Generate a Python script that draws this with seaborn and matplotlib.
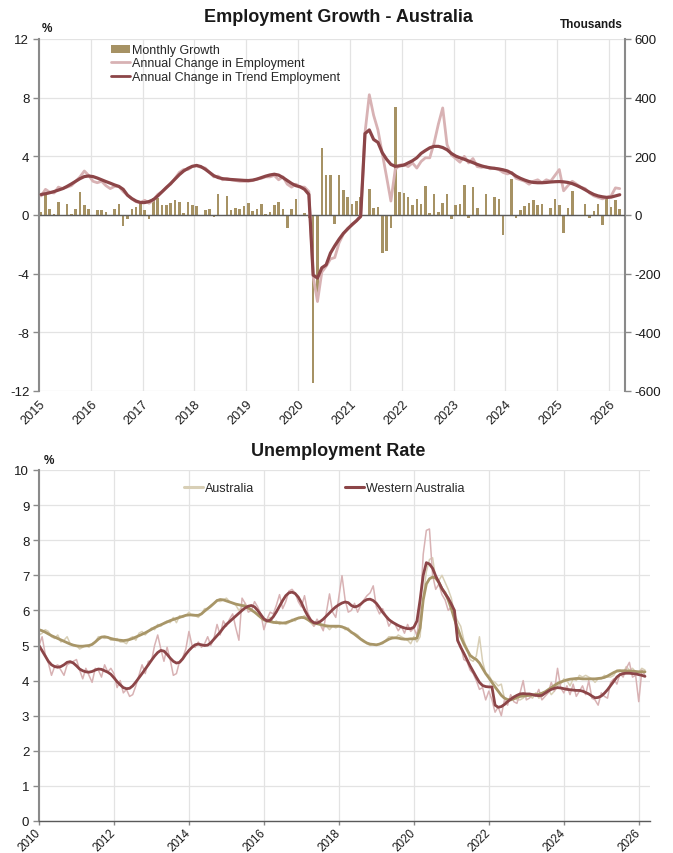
import numpy as np
import matplotlib
matplotlib.use("Agg")
import matplotlib.pyplot as plt
import seaborn as sns
from matplotlib.patches import Patch
from matplotlib.lines import Line2D

# ---------------- DATA ----------------
# Employment growth - Australia, monthly Jan 2015 .. Mar 2026
emp_start_year = 2015
monthly_growth_k = [
    11, 71, 20, 2, 44, -5, 36, 5, 19, 78, 35, 19,          # 2015
    0, 18, 17, 9, -5, 20, 36, -38, -15, 20, 27, 36,         # 2016
    17, -14, 58, 58, 33, 33, 40, 50, 43, 7, 46, 35,         # 2017
    29, -1, 18, 19, -8, 70, 0, 66, 17, 23, 21, 30,          # 2018
    41, 15, 19, 36, 5, 11, 34, 45, 19, -46, 21, 55,         # 2019
    1, 8, -9, -574, -294, 228, 138, 136, -31, 138, 85, 62,  # 2020
    39, 47, 62, -3, 88, 25, 26, -128, -122, -46, 367, 80,   # 2021
    75, 60, 33, 55, 36, 100, 8, 73, 9, 41, 73, -12,         # 2022
    33, 38, 102, -9, 95, 24, 0, 72, -2, 60, 54, -68,        # 2023
    -3, 122, -9, 17, 30, 42, 52, 33, 38, 0, 25, 54,         # 2024
    33, -62, 25, 81, -2, -1, 36, -11, 14, 36, -33, 60,      # 2025
    26, 50, 20,                                             # 2026
]
annual_change_pct = [
    1.30, 1.75, 1.55, 1.50, 1.90, 1.80, 1.90, 2.00, 2.30, 2.60, 3.00, 2.70,
    2.30, 2.20, 2.30, 2.00, 1.80, 1.95, 1.95, 1.60, 1.35, 1.10, 0.90, 0.85,
    1.00, 0.80, 1.00, 1.40, 1.60, 1.90, 2.10, 2.50, 2.90, 3.10, 3.10, 3.30,
    3.35, 3.25, 3.20, 2.90, 2.60, 2.65, 2.40, 2.50, 2.40, 2.35, 2.30, 2.30,
    2.30, 2.35, 2.45, 2.50, 2.60, 2.60, 2.70, 2.40, 2.60, 2.10, 1.90, 2.10,
    1.90, 1.90, 1.60, -4.20, -5.90, -3.90, -3.50, -3.00, -2.90, -1.90, -1.30, -0.90,
    -0.70, -0.40, -0.05, 5.60, 8.20, 6.80, 5.80, 4.20, 2.60, 0.95, 3.10, 3.40,
    3.45, 3.30, 3.55, 3.20, 3.65, 3.90, 3.90, 4.90, 6.20, 7.30, 4.80, 4.10,
    3.85, 3.60, 4.00, 3.55, 3.85, 3.30, 3.25, 3.30, 3.15, 3.20, 3.10, 2.90,
    2.80, 2.90, 2.50, 2.40, 2.30, 2.10, 2.30, 2.40, 2.20, 2.40, 2.30, 2.70,
    3.10, 1.65, 2.00, 2.30, 2.10, 1.90, 1.80, 1.50, 1.30, 1.20, 1.10, 1.20,
    1.30, 1.85, 1.80,
]
annual_trend_pct = [
    1.40, 1.45, 1.52, 1.60, 1.70, 1.80, 1.95, 2.12, 2.30, 2.48, 2.62, 2.66,
    2.62, 2.52, 2.40, 2.28, 2.17, 2.05, 1.95, 1.75, 1.35, 1.12, 0.95, 0.85,
    0.85, 0.92, 1.05, 1.30, 1.58, 1.85, 2.15, 2.45, 2.75, 3.00, 3.18, 3.32,
    3.38, 3.30, 3.12, 2.90, 2.68, 2.55, 2.48, 2.44, 2.42, 2.40, 2.38, 2.36,
    2.35, 2.38, 2.45, 2.55, 2.65, 2.73, 2.78, 2.72, 2.55, 2.35, 2.15, 2.00,
    1.92, 1.75, 1.40, -4.10, -4.30, -3.60, -3.40, -2.60, -2.10, -1.65, -1.25, -0.95,
    -0.65, -0.40, -0.10, 5.55, 5.80, 5.15, 4.95, 4.25, 3.80, 3.45, 3.32, 3.35,
    3.40, 3.55, 3.70, 3.90, 4.20, 4.40, 4.58, 4.68, 4.68, 4.60, 4.45, 4.20,
    4.02, 3.90, 3.80, 3.68, 3.57, 3.45, 3.35, 3.27, 3.22, 3.18, 3.14, 3.08,
    3.00, 2.85, 2.65, 2.50, 2.38, 2.28, 2.22, 2.20, 2.20, 2.22, 2.25, 2.27,
    2.28, 2.26, 2.22, 2.14, 2.02, 1.88, 1.72, 1.55, 1.40, 1.30, 1.24, 1.20,
    1.22, 1.30, 1.38,
]
emp_years = list(range(2015, 2027))

# Unemployment rate, monthly Jan 2010 .. Mar 2026
ur_start_year = 2010
aus_raw = [
    5.30, 5.35, 5.45, 5.40, 5.25, 5.20, 5.30, 5.10, 5.15, 5.25, 5.05, 5.00,
    5.00, 4.90, 4.95, 5.00, 4.95, 5.05, 5.10, 5.25, 5.25, 5.20, 5.25, 5.15,
    5.15, 5.20, 5.10, 5.10, 5.05, 5.20, 5.25, 5.15, 5.35, 5.40, 5.30, 5.40,
    5.50, 5.45, 5.60, 5.55, 5.65, 5.70, 5.65, 5.80, 5.65, 5.85, 5.80, 5.85,
    5.95, 5.85, 5.85, 5.80, 5.90, 6.05, 6.05, 6.15, 6.20, 6.30, 6.25, 6.30,
    6.35, 6.25, 6.20, 6.15, 6.00, 6.10, 6.20, 6.05, 6.05, 5.95, 5.85, 5.80,
    5.75, 5.70, 5.80, 5.65, 5.70, 5.60, 5.65, 5.60, 5.65, 5.75, 5.70, 5.80,
    5.80, 5.85, 5.75, 5.65, 5.55, 5.65, 5.60, 5.50, 5.55, 5.45, 5.55, 5.50,
    5.55, 5.55, 5.45, 5.50, 5.35, 5.35, 5.30, 5.20, 5.15, 5.05, 5.00, 5.05,
    5.00, 5.05, 5.05, 5.15, 5.25, 5.25, 5.20, 5.30, 5.25, 5.20, 5.15, 5.05,
    5.25, 5.10, 5.25, 6.40, 7.10, 7.45, 7.50, 6.90, 6.85, 7.00, 6.80, 6.60,
    6.35, 5.90, 5.70, 5.55, 5.15, 4.90, 4.60, 4.55, 4.70, 5.25, 4.55, 4.20,
    4.15, 4.00, 3.95, 3.85, 3.90, 3.50, 3.45, 3.50, 3.55, 3.45, 3.45, 3.50,
    3.60, 3.55, 3.50, 3.65, 3.50, 3.55, 3.65, 3.75, 3.60, 3.70, 3.85, 3.90,
    4.05, 4.00, 3.85, 4.05, 4.00, 4.15, 4.10, 4.15, 4.10, 4.05, 3.95, 4.05,
    4.05, 4.15, 4.10, 4.10, 4.15, 4.30, 4.30, 4.20, 4.40, 4.30, 4.35, 4.25,
    4.25, 4.35, 4.30,
]
aus_trend = [
    5.45, 5.42, 5.38, 5.33, 5.28, 5.24, 5.20, 5.16, 5.12, 5.08, 5.04, 5.01,
    4.99, 4.98, 4.98, 4.99, 5.00, 5.03, 5.10, 5.18, 5.24, 5.25, 5.23, 5.20,
    5.18, 5.16, 5.15, 5.14, 5.15, 5.17, 5.20, 5.24, 5.28, 5.32, 5.36, 5.41,
    5.46, 5.51, 5.55, 5.59, 5.63, 5.67, 5.71, 5.74, 5.77, 5.80, 5.83, 5.86,
    5.87, 5.87, 5.86, 5.86, 5.90, 5.98, 6.05, 6.12, 6.20, 6.28, 6.31, 6.30,
    6.27, 6.24, 6.21, 6.18, 6.16, 6.14, 6.12, 6.07, 6.01, 5.95, 5.88, 5.80,
    5.73, 5.70, 5.68, 5.66, 5.65, 5.65, 5.64, 5.65, 5.68, 5.71, 5.75, 5.78,
    5.80, 5.79, 5.74, 5.68, 5.64, 5.62, 5.60, 5.58, 5.56, 5.55, 5.55, 5.55,
    5.55, 5.53, 5.50, 5.45, 5.38, 5.32, 5.25, 5.18, 5.12, 5.07, 5.04, 5.03,
    5.02, 5.04, 5.08, 5.13, 5.18, 5.21, 5.22, 5.21, 5.19, 5.18, 5.18, 5.19,
    5.19, 5.21, 5.50, 6.30, 6.75, 6.90, 6.95, 6.92, 6.80, 6.62, 6.50, 6.30,
    6.05, 5.75, 5.50, 5.25, 5.05, 4.88, 4.72, 4.65, 4.60, 4.50, 4.35, 4.20,
    4.08, 3.95, 3.82, 3.70, 3.58, 3.50, 3.46, 3.45, 3.48, 3.52, 3.55, 3.56,
    3.57, 3.58, 3.59, 3.60, 3.61, 3.64, 3.68, 3.74, 3.80, 3.86, 3.92, 3.96,
    3.99, 4.02, 4.04, 4.05, 4.06, 4.06, 4.05, 4.05, 4.05, 4.05, 4.05, 4.06,
    4.07, 4.09, 4.13, 4.18, 4.23, 4.27, 4.28, 4.28, 4.28, 4.27, 4.27, 4.26,
    4.25, 4.25, 4.25,
]
wa_raw = [
    5.00, 5.25, 4.75, 4.50, 4.15, 4.40, 4.45, 4.30, 4.15, 4.45, 4.50, 4.55,
    4.60, 4.30, 4.05, 4.35, 4.15, 3.95, 4.35, 4.30, 4.10, 4.45, 4.25, 4.35,
    4.20, 3.80, 4.00, 3.65, 3.75, 3.55, 3.60, 3.85, 4.15, 4.45, 4.20, 4.55,
    4.55, 5.00, 5.30, 4.90, 4.55, 4.95, 4.60, 4.15, 4.20, 4.55, 4.65, 4.90,
    5.40, 5.00, 4.95, 5.10, 4.95, 5.05, 5.25, 5.00, 5.20, 5.60, 5.30, 5.70,
    5.55, 5.75, 5.90, 5.50, 5.15, 6.35, 6.20, 5.95, 6.00, 6.25, 6.10, 5.90,
    5.45, 5.75, 5.95, 5.90, 6.15, 6.45, 6.05, 6.25, 6.55, 6.60, 6.50, 6.25,
    6.10, 6.42, 5.95, 5.75, 5.55, 5.75, 5.60, 5.42, 5.95, 6.47, 5.95, 5.80,
    6.40, 6.99, 6.30, 5.95, 6.00, 6.20, 5.95, 6.15, 6.30, 6.42, 6.50, 6.70,
    6.10, 5.90, 6.05, 5.85, 5.55, 5.70, 5.60, 5.42, 5.55, 5.35, 5.60, 5.40,
    5.50, 5.28, 6.00, 7.60, 8.28, 8.32, 7.00, 6.60, 6.75, 6.45, 6.30, 6.00,
    6.10, 5.90, 5.10, 5.00, 4.60, 4.55, 4.30, 4.20, 4.00, 3.75, 3.80, 3.45,
    3.70, 3.45, 3.10, 3.25, 3.00, 3.45, 3.30, 3.60, 3.40, 3.35, 3.65, 4.00,
    3.45, 3.50, 3.60, 3.55, 3.75, 3.45, 3.55, 3.65, 3.95, 3.70, 4.35, 3.80,
    3.65, 3.85, 3.60, 3.90, 3.55, 3.70, 3.85, 3.60, 4.00, 3.50, 3.45, 3.30,
    3.65, 3.55, 3.50, 3.95, 4.05, 3.90, 4.20, 4.10, 4.35, 4.52, 4.10, 4.15,
    3.40, 4.30, 4.15,
]
wa_trend = [
    5.00, 4.85, 4.70, 4.55, 4.45, 4.40, 4.38, 4.40, 4.45, 4.52, 4.54, 4.50,
    4.42, 4.33, 4.28, 4.25, 4.24, 4.26, 4.30, 4.33, 4.32, 4.28, 4.24, 4.18,
    4.08, 3.97, 3.88, 3.80, 3.77, 3.78, 3.85, 3.96, 4.08, 4.20, 4.33, 4.45,
    4.58, 4.70, 4.80, 4.86, 4.84, 4.75, 4.64, 4.55, 4.50, 4.52, 4.62, 4.75,
    4.86, 4.95, 5.02, 5.04, 5.02, 5.00, 5.01, 5.08, 5.18, 5.28, 5.38, 5.50,
    5.60, 5.68, 5.76, 5.84, 5.92, 6.00, 6.07, 6.12, 6.14, 6.10, 6.00, 5.88,
    5.76, 5.70, 5.72, 5.82, 5.96, 6.12, 6.28, 6.42, 6.50, 6.52, 6.48, 6.38,
    6.22, 6.02, 5.85, 5.72, 5.65, 5.64, 5.68, 5.75, 5.84, 5.93, 6.02, 6.10,
    6.16, 6.21, 6.24, 6.22, 6.14, 6.10, 6.12, 6.18, 6.26, 6.31, 6.32, 6.28,
    6.20, 6.08, 5.95, 5.84, 5.74, 5.67, 5.62, 5.57, 5.53, 5.50, 5.48, 5.48,
    5.52, 5.70, 6.30, 7.00, 7.36, 7.32, 7.20, 6.98, 6.80, 6.62, 6.48, 6.35,
    6.18, 6.00, 5.15, 4.95, 4.78, 4.60, 4.42, 4.26, 4.10, 3.95, 3.86, 3.83,
    3.82, 3.82, 3.30, 3.24, 3.26, 3.32, 3.40, 3.47, 3.53, 3.58, 3.62, 3.63,
    3.62, 3.62, 3.60, 3.58, 3.57, 3.58, 3.64, 3.70, 3.75, 3.78, 3.80, 3.79,
    3.77, 3.75, 3.74, 3.73, 3.72, 3.72, 3.70, 3.66, 3.62, 3.56, 3.51, 3.52,
    3.56, 3.64, 3.74, 3.86, 3.98, 4.10, 4.17, 4.20, 4.21, 4.21, 4.20, 4.19,
    4.17, 4.15, 4.12,
]
ur_years = list(range(2010, 2027, 2))

# ---------------- STYLE ----------------
sns.set_theme(style="white")
plt.rcParams["font.family"] = ["Liberation Sans", "DejaVu Sans"]
plt.rcParams["axes.unicode_minus"] = False

BAR = "#A69264"
PINK = "#D8B2B4"
MAROON = "#8C4548"
TAN = "#A89668"
TAN_LIGHT = "#D8CFB6"
GRID = "#E3E3E3"
SPINE = "#8A8A8A"
AXIS_DARK = "#5A5A5A"
TXT = "#1A1A1A"

W, H = 673, 854
fig = plt.figure(figsize=(W / 100, H / 100), dpi=100)

def fx(px):
    return px / W

def fy(py):
    return 1 - py / H

# ---------------- TOP CHART ----------------
emp_x = emp_start_year + (np.arange(len(monthly_growth_k)) + 0.5) / 12.0

axk = fig.add_axes([fx(39), fy(392), (625 - 39) / W, (392 - 40) / H])
axp = axk.twinx()

axk.set_axisbelow(True)
axk.bar(emp_x, monthly_growth_k, width=0.6 / 12, color=BAR, zorder=2, linewidth=0)
axk.axhline(0, color=AXIS_DARK, lw=1.0, zorder=3)
axk.set_ylim(-600, 600)
axk.set_yticks(np.arange(-600, 601, 200))
axk.set_xlim(2015, 2026.31)
axk.set_xticks(emp_years)
axk.set_xticklabels([str(y) for y in emp_years], rotation=45, ha="right",
                    rotation_mode="anchor", fontsize=9.2, color=TXT)
axk.grid(True, color=GRID, lw=0.9)
axk.yaxis.set_ticks_position("right")
axk.tick_params(axis="y", right=True, left=False, length=4, width=1, color=SPINE,
                labelsize=9.5, labelcolor=TXT, pad=3)
axk.tick_params(axis="x", bottom=False, length=0, pad=5)
for s in ["left", "top", "bottom"]:
    axk.spines[s].set_visible(False)
axk.spines["right"].set_color(SPINE)
axk.spines["right"].set_linewidth(1.5)

sns.lineplot(x=emp_x, y=annual_change_pct, ax=axp, color=PINK, lw=2.0, zorder=4)
sns.lineplot(x=emp_x, y=annual_trend_pct, ax=axp, color=MAROON, lw=2.3, zorder=5)
axp.set_ylim(-12, 12)
axp.set_yticks(np.arange(-12, 13, 4))
axp.set_xlim(2015, 2026.31)
axp.yaxis.set_ticks_position("left")
axp.tick_params(axis="y", left=True, right=False, length=4, width=1, color=SPINE,
                labelsize=9.5, labelcolor=TXT, pad=3)
axp.grid(False)
for s in ["right", "top", "bottom"]:
    axp.spines[s].set_visible(False)
axp.spines["left"].set_color(SPINE)
axp.spines["left"].set_linewidth(1.5)
axp.set_ylabel("")

leg_handles = [
    Patch(facecolor=BAR, edgecolor="none", label="Monthly Growth"),
    Line2D([], [], color=PINK, lw=2, label="Annual Change in Employment"),
    Line2D([], [], color=MAROON, lw=2, label="Annual Change in Trend Employment"),
]
axp.legend(handles=leg_handles, loc="upper left", bbox_to_anchor=(fx(111), fy(45)),
           bbox_transform=fig.transFigure, frameon=False, fontsize=9,
           handlelength=1.5, handletextpad=0.15, labelspacing=0.12,
           borderpad=0, borderaxespad=0, handleheight=0.6)

fig.text(fx(338), fy(18), "Employment Growth - Australia", ha="center", va="center",
         fontsize=13, fontweight="bold", color=TXT)
fig.text(fx(42), fy(29), "%", ha="left", va="center", fontsize=8.5, fontweight="bold", color=TXT)
fig.text(fx(591), fy(25), "Thousands", ha="center", va="center", fontsize=8.5,
         fontweight="bold", color=TXT)

# ---------------- BOTTOM CHART ----------------
ur_x = ur_start_year + np.arange(len(aus_raw)) / 12.0

ax3 = fig.add_axes([fx(39), fy(822), (650 - 39) / W, (822 - 471) / H])
ax3.set_axisbelow(True)
sns.lineplot(x=ur_x, y=aus_raw, ax=ax3, color=TAN_LIGHT, lw=1.1)
sns.lineplot(x=ur_x, y=wa_raw, ax=ax3, color=PINK, lw=1.1)
sns.lineplot(x=ur_x, y=aus_trend, ax=ax3, color=TAN, lw=2.0)
sns.lineplot(x=ur_x, y=wa_trend, ax=ax3, color=MAROON, lw=2.0)
ax3.set_ylim(0, 10)
ax3.set_yticks(range(0, 11))
ax3.set_xlim(2010, 2026.3)
ax3.set_xticks(ur_years)
ax3.set_xticklabels([str(y) for y in ur_years], rotation=45, ha="right", va="center",
                    rotation_mode="anchor", fontsize=8.4, color=TXT)
ax3.grid(True, color=GRID, lw=0.9)
ax3.tick_params(axis="y", left=True, length=4, width=1, color=SPINE, labelsize=9.5,
                labelcolor=TXT, pad=3)
ax3.tick_params(axis="x", bottom=True, length=3, width=1, color=SPINE, pad=4)
for s in ["top", "right"]:
    ax3.spines[s].set_visible(False)
ax3.spines["left"].set_color(SPINE)
ax3.spines["left"].set_linewidth(1.5)
ax3.spines["bottom"].set_color(AXIS_DARK)
ax3.spines["bottom"].set_linewidth(1.0)
ax3.set_ylabel("")

ur_handles = [
    Line2D([], [], color=TAN_LIGHT, lw=2.2, label="Australia"),
    Line2D([], [], color=MAROON, lw=2.2, label="Western Australia"),
]
ax3.legend(handles=ur_handles, loc="upper left", bbox_to_anchor=(fx(184), fy(483)),
           bbox_transform=fig.transFigure, frameon=False, fontsize=9, ncol=2,
           columnspacing=7.3, handlelength=1.5, handletextpad=0.15,
           borderpad=0, borderaxespad=0)

fig.text(fx(338), fy(452), "Unemployment Rate", ha="center", va="center",
         fontsize=13, fontweight="bold", color=TXT)
fig.text(fx(44), fy(461), "%", ha="left", va="center", fontsize=8.5, fontweight="bold", color=TXT)

fig.savefig("out.png", dpi=100, facecolor="white")
